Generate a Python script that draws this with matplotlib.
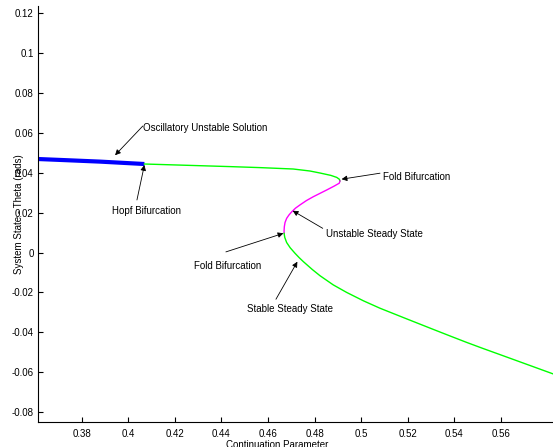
import numpy as np
from matplotlib import pyplot as plt

# continuation branches (parameter, theta)
osc_param = [0.3590, 0.3716, 0.3878, 0.4069]
osc_theta = [0.0469, 0.0463, 0.0455, 0.0443]

upper_param = [0.4069, 0.4437, 0.4565, 0.4708, 0.4780, 0.4823, 0.4870, 0.4895, 0.4906, 0.4909]
upper_theta = [0.0443, 0.0430, 0.0425, 0.0418, 0.0408, 0.0398, 0.0386, 0.0376, 0.0367, 0.0358]

unstable_param = [0.4909, 0.4906, 0.4885, 0.4852, 0.4823, 0.4794, 0.4765, 0.4737, 0.4718,
                  0.4702, 0.4690, 0.4680, 0.4673, 0.4670, 0.4669, 0.4669]
unstable_theta = [0.0358, 0.0347, 0.0333, 0.0313, 0.0296, 0.0279, 0.0260, 0.0238, 0.0222,
                  0.0204, 0.0188, 0.0171, 0.0150, 0.0129, 0.0110, 0.0096]

lower_param = [0.4669, 0.4672, 0.4680, 0.4695, 0.4716, 0.4734, 0.4752, 0.4790, 0.4823,
               0.4880, 0.4938, 0.5010, 0.5081, 0.5195, 0.5310, 0.5380, 0.5453, 0.5520,
               0.5596, 0.5700, 0.5818, 0.5900]
lower_theta = [0.0096, 0.0075, 0.0050, 0.0024, -0.0004, -0.0026, -0.0046, -0.0085, -0.0116,
               -0.0162, -0.0200, -0.0242, -0.0279, -0.0332, -0.0385, -0.0417, -0.0450, -0.0479,
               -0.0511, -0.0555, -0.0605, -0.0639]

xticks = [0.38, 0.40, 0.42, 0.44, 0.46, 0.48, 0.50, 0.52, 0.54, 0.56]
xtick_labels = ['0.38', '0.4', '0.42', '0.44', '0.46', '0.48', '0.5', '0.52', '0.54', '0.56']
yticks = [-0.08, -0.06, -0.04, -0.02, 0.0, 0.02, 0.04, 0.06, 0.08, 0.10, 0.12]
ytick_labels = ['-0.08', '-0.06', '-0.04', '-0.02', '0', '0.02', '0.04', '0.06', '0.08', '0.1', '0.12']

# (label, arrow head, arrow tail, text position, horizontal alignment)
notes = [
    ('Oscillatory Unstable Solution', (0.3943, 0.0487), (0.4062, 0.0633), (0.4064, 0.0623), 'left'),
    ('Hopf Bifurcation', (0.4069, 0.0438), (0.4037, 0.0263), (0.4080, 0.0208), 'center'),
    ('Fold Bifurcation', (0.4916, 0.0367), (0.5081, 0.0397), (0.5092, 0.0377), 'left'),
    ('Unstable Steady State', (0.4706, 0.0209), (0.4835, 0.0121), (0.4849, 0.0091), 'left'),
    ('Fold Bifurcation', (0.4666, 0.0096), (0.4419, 0.0003), (0.4428, -0.0066), 'center'),
    ('Stable Steady State', (0.4726, -0.0046), (0.4634, -0.0234), (0.4694, -0.0284), 'center'),
]

plt.rcParams['font.family'] = ['Liberation Sans', 'DejaVu Sans']

fig = plt.figure(figsize=(5.53, 4.47), dpi=100)
ax = fig.add_axes([38 / 553, 25.3 / 447, 515 / 553, 415.7 / 447])

ax.plot(osc_param, osc_theta, color='#0000ff', lw=3.0, solid_capstyle='butt')
ax.plot(upper_param, upper_theta, color='#00ff00', lw=1.0)
ax.plot(unstable_param, unstable_theta, color='#ff00ff', lw=1.0)
ax.plot(lower_param, lower_theta, color='#00ff00', lw=1.0)

for label, head, tail, pos, ha in notes:
    ax.annotate('', xy=head, xytext=tail,
                arrowprops=dict(arrowstyle='-|>', color='black', lw=0.6,
                                mutation_scale=8, shrinkA=0, shrinkB=0))
    ax.text(pos[0], pos[1], label, fontsize=7, ha=ha, va='center')

ax.set_xlim(0.3612, 0.5824)
ax.set_ylim(-0.0847, 0.1234)
ax.set_xticks(xticks)
ax.set_xticklabels(xtick_labels)
ax.set_yticks(yticks)
ax.set_yticklabels(ytick_labels)
ax.tick_params(direction='in', length=3.6, width=0.8, labelsize=7)
ax.tick_params(axis='x', pad=5.5)
ax.tick_params(axis='y', pad=3)

ax.spines['top'].set_visible(False)
ax.spines['right'].set_visible(False)
ax.spines['left'].set_linewidth(0.8)
ax.spines['bottom'].set_linewidth(0.8)

ax.set_xlabel('Continuation Parameter', fontsize=7)
ax.xaxis.set_label_coords(0.464, -0.056)
ax.xaxis.label.set_va('center')
ax.set_ylabel('System State - Theta (rads)', fontsize=7)
ax.yaxis.set_label_coords(-0.037, 0.5)
ax.yaxis.label.set_va('center')

fig.savefig('out.png', dpi=100)
